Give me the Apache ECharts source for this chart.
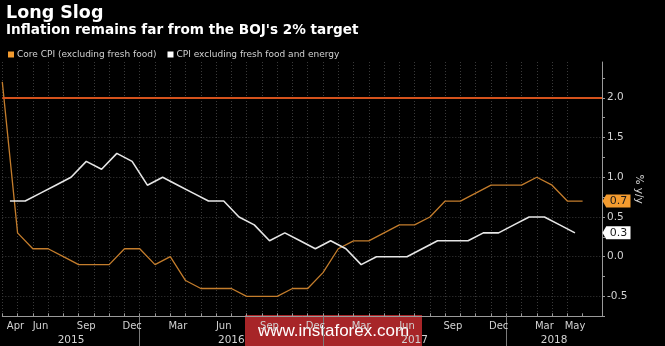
<!DOCTYPE html>
<html>
<head>
<meta charset="utf-8">
<script src="https://cdn.jsdelivr.net/npm/echarts@6/dist/echarts.min.js"></script>
<style>
  html, body { margin: 0; padding: 0; background: #000; }
  #chart { width: 665px; height: 346px; }
</style>
</head>
<body>
<div id="chart"></div>
<script>
// Japan CPI, % y/y, monthly
const coreStart = [2015, 3];       // Core CPI (excluding fresh food), first month
const coreCPI = [
  2.2, 0.3, 0.1, 0.1, 0.0, -0.1, -0.1, -0.1, 0.1, 0.1,
  -0.1, 0.0, -0.3, -0.4, -0.4, -0.4, -0.5, -0.5, -0.5, -0.4,
  -0.4, -0.2, 0.1, 0.2, 0.2, 0.3, 0.4, 0.4, 0.5, 0.7,
  0.7, 0.8, 0.9, 0.9, 0.9, 1.0, 0.9, 0.7, 0.7
];
const coreCoreStart = [2015, 4];   // CPI excluding fresh food and energy, first month
const coreCoreCPI = [
  0.7, 0.7, 0.8, 0.9, 1.0, 1.2, 1.1, 1.3, 1.2, 0.9,
  1.0, 0.9, 0.8, 0.7, 0.7, 0.5, 0.4, 0.2, 0.3, 0.2,
  0.1, 0.2, 0.1, -0.1, 0.0, 0.0, 0.0, 0.1, 0.2, 0.2,
  0.2, 0.3, 0.3, 0.4, 0.5, 0.5, 0.4, 0.3
];
const bojTarget = 2.0;

// Axis text
const monthTicks = [
  [2015, 4, 'Apr'], [2015, 6, 'Jun'], [2015, 9, 'Sep'], [2015, 12, 'Dec'],
  [2016, 3, 'Mar'], [2016, 6, 'Jun'], [2016, 9, 'Sep'], [2016, 12, 'Dec'],
  [2017, 3, 'Mar'], [2017, 6, 'Jun'], [2017, 9, 'Sep'], [2017, 12, 'Dec'],
  [2018, 3, 'Mar'], [2018, 5, 'May']
];
const years = [2015, 2016, 2017, 2018];
const yTickLabels = [-0.5, 0.0, 0.5, 1.0, 1.5, 2.0];

const seriesNames = ['Core CPI (excluding fresh food)', 'CPI excluding fresh food and energy'];

// ---- layout helpers ----
const FONT = 'DejaVu Sans';
const TEXT = '#d2d2d2';
const GRIDLINE = '#3a3a3a';
const AXIS = '#9a9a9a';
const ORANGE = '#f39b2f';
const ORANGE_LINE = '#c47d2c';
const WHITE = '#e6e6e6';

// months counted from the start of March 2015
const monthIndex = (y, m) => (y - 2015) * 12 + (m - 3);

const X_MIN = 1;
const X_MAX = 40.27;
const Y_MIN = -0.75;
const Y_MAX = 2.45;

// core CPI plotted at month end, the other series at mid-month
const coreData = coreCPI.map((v, i) => [monthIndex(...coreStart) + i + 1, v]);
const coreCoreData = coreCoreCPI.map((v, i) => [monthIndex(...coreCoreStart) + i + 0.5, v]);

const monthLabelPos = monthTicks.map(([y, m]) => monthIndex(y, m) + 0.5);
const monthLabelText = {};
monthTicks.forEach(([y, m, t], i) => { monthLabelText[monthLabelPos[i].toFixed(2)] = i === 0 ? '{first|' + t + '}' : t; });

const monthEnds = [];
for (let u = X_MIN; u <= coreData[coreData.length - 1][0]; u++) monthEnds.push(u);

const yearStarts = years.map(y => monthIndex(y, 1));
const yearSeparators = yearStarts.filter(s => s > X_MIN && s < X_MAX);
const yearCenters = yearStarts.map(s => (Math.max(X_MIN, s) + Math.min(X_MAX, s + 12)) / 2);
const yearText = {};
yearCenters.forEach((c, i) => { yearText[c.toFixed(2)] = String(years[i]); });

const yTicks = [];
for (let v = Y_MIN; v < Y_MAX; v += 0.25) yTicks.push(Math.round(v * 100) / 100);

// vertical grid: every month end except the one past the last reading
const vLineColors = [];
for (let u = X_MIN; u <= Math.floor(X_MAX); u++) vLineColors.push(u <= monthEnds[monthEnds.length - 1] ? GRIDLINE : 'rgba(0,0,0,0)');

function badge(value, fill, textColor) {
  return {
    symbol: 'path://M0,6.5 L4,0 L30,0 L30,13 L4,13 Z',
    symbolSize: [28, 13],
    symbolKeepAspect: false,
    data: [{ coord: [X_MAX, value], value: value, symbolOffset: [14.5, 0] }],
    itemStyle: { color: fill },
    label: {
      show: true, position: 'inside', offset: [2, 0],
      color: textColor, fontFamily: FONT, fontSize: 11,
      formatter: p => p.value.toFixed(1)
    },
    silent: true,
    animation: false
  };
}

const chart = echarts.init(document.getElementById('chart'));
chart.setOption({
  backgroundColor: '#000',
  animation: false,
  title: [
    { text: 'Long Slog', left: 1, top: -1,
      textStyle: { color: '#fff', fontFamily: FONT, fontWeight: 'bold', fontSize: 17.5 } },
    { text: "Inflation remains far from the BOJ's 2% target", left: 1, top: 18,
      textStyle: { color: '#fff', fontFamily: FONT, fontWeight: 'bold', fontSize: 13.6 } }
  ],
  legend: {
    left: 3, top: 45, itemWidth: 6, itemHeight: 6, itemGap: 11,
    icon: 'rect', selectedMode: false,
    data: seriesNames,
    textStyle: { color: TEXT, fontFamily: FONT, fontSize: 9, padding: [0, 0, 0, -2] }
  },
  grid: { left: 2.3, right: 63, top: 62, bottom: 29.7, containLabel: false },
  xAxis: [
    {
      type: 'value', position: 'bottom', min: X_MIN, max: X_MAX, interval: 1,
      axisLine: { show: true, onZero: false, lineStyle: { color: AXIS, width: 1 } },
      axisTick: { show: true, inside: true, length: 3, customValues: monthEnds, lineStyle: { color: AXIS } },
      splitLine: { show: true, showMinLine: true, showMaxLine: false,
        lineStyle: { color: vLineColors, type: [1, 2], width: 1 } },
      axisLabel: {
        show: true, customValues: monthLabelPos, margin: 5,
        color: TEXT, fontFamily: FONT, fontSize: 10,
        formatter: v => monthLabelText[Number(v).toFixed(2)] || '',
        rich: { first: { color: TEXT, fontFamily: FONT, fontSize: 10, padding: [0, 0, 0, 11] } }
      }
    },
    {
      type: 'value', position: 'bottom', min: X_MIN, max: X_MAX,
      axisLine: { show: false, onZero: false },
      axisTick: { show: true, length: 30, customValues: yearSeparators, lineStyle: { color: '#7a7a7a' } },
      splitLine: { show: false },
      axisLabel: {
        show: true, customValues: yearCenters, margin: 18,
        color: TEXT, fontFamily: FONT, fontSize: 10.5,
        formatter: v => yearText[Number(v).toFixed(2)] || ''
      }
    }
  ],
  yAxis: {
    type: 'value', position: 'right', min: Y_MIN, max: Y_MAX, interval: 0.25,
    name: '% y/y', nameLocation: 'middle', nameRotate: -90, nameGap: 31,
    nameMoveOverlap: false,
    nameTextStyle: { color: TEXT, fontFamily: FONT, fontSize: 10.5 },
    axisLine: { show: true, onZero: false, lineStyle: { color: AXIS, width: 1 } },
    axisTick: { show: true, length: 3, customValues: yTicks, lineStyle: { color: AXIS } },
    splitLine: { show: true, showMinLine: true, showMaxLine: false,
      lineStyle: { color: ['rgba(0,0,0,0)', GRIDLINE], type: [1, 2], width: 1 } },
    axisLabel: {
      show: true, customValues: yTickLabels, margin: 5,
      color: TEXT, fontFamily: FONT, fontSize: 10.5,
      formatter: v => Number(v).toFixed(1)
    }
  },
  series: [
    {
      name: seriesNames[0], type: 'line', data: coreData,
      showSymbol: false, clip: false,
      itemStyle: { color: ORANGE },
      lineStyle: { color: ORANGE_LINE, width: 1.3 },
      markLine: {
        silent: true, symbol: 'none', animation: false,
        label: { show: false },
        lineStyle: { color: '#d4521c', width: 2, type: 'solid' },
        data: [{ yAxis: bojTarget }]
      },
      markPoint: badge(coreCPI[coreCPI.length - 1], ORANGE, '#1a1a1a'),
      z: 3
    },
    {
      name: seriesNames[1], type: 'line', data: coreCoreData,
      showSymbol: false, clip: false,
      itemStyle: { color: '#ffffff' },
      lineStyle: { color: WHITE, width: 1.6 },
      markPoint: badge(coreCoreCPI[coreCoreCPI.length - 1], '#ffffff', '#1a1a1a'),
      z: 4
    }
  ],
  graphic: [
    {
      type: 'group', left: 245, top: 315, z: 100,
      children: [
        { type: 'rect', shape: { x: 0, y: 0, width: 177, height: 31 },
          style: { fill: 'rgba(190, 42, 46, 0.88)' } },
        { type: 'text', x: 88.5, y: 16,
          style: { text: 'www.instaforex.com', fill: '#fff', font: '17px "Liberation Sans"',
            align: 'center', verticalAlign: 'middle' } }
      ]
    }
  ]
});
</script>
</body>
</html>
